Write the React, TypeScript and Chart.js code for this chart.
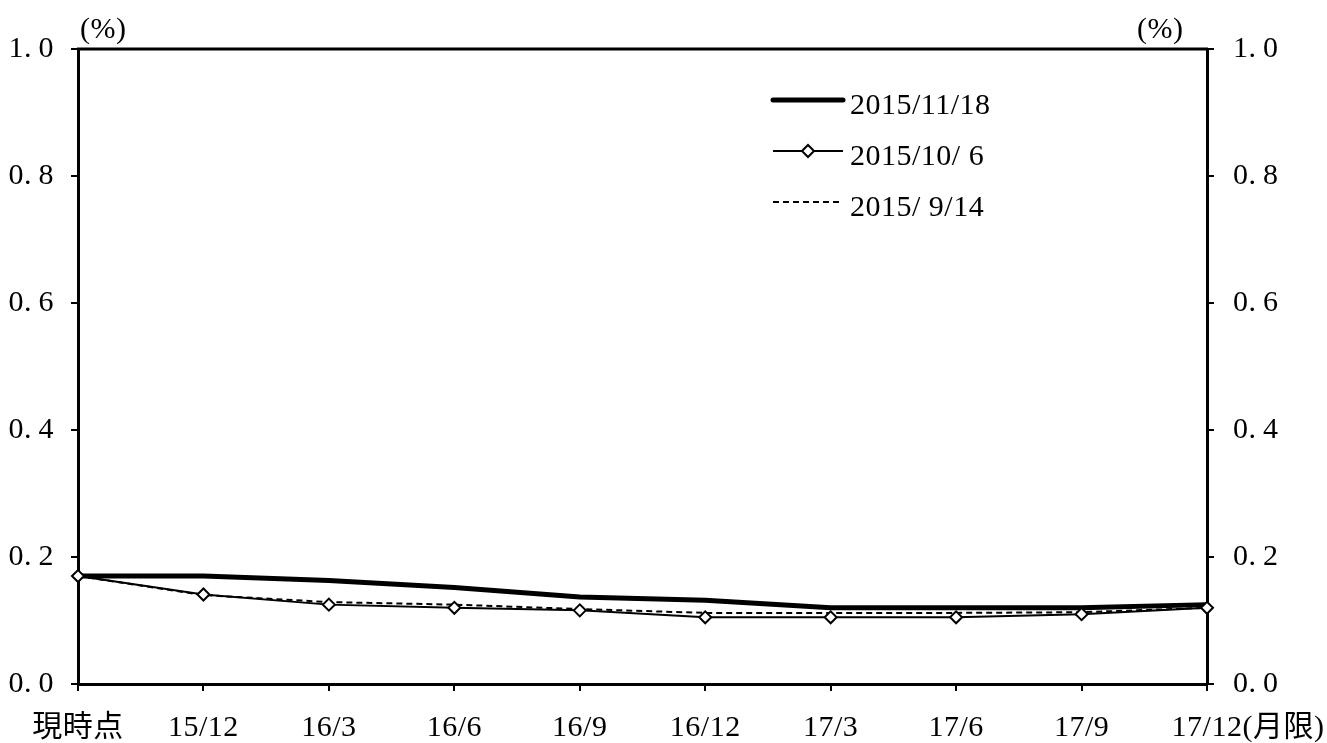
import React, { useEffect, useRef } from 'react';
import { Chart, registerables } from 'chart.js';

Chart.register(...registerables);

const categories = ['現時点', '15/12', '16/3', '16/6', '16/9', '16/12', '17/3', '17/6', '17/9', '17/12'];
const series1118 = [0.17, 0.17, 0.163, 0.152, 0.137, 0.132, 0.12, 0.12, 0.12, 0.125];
const series1006 = [0.17, 0.141, 0.125, 0.12, 0.116, 0.105, 0.105, 0.105, 0.11, 0.12];
const series0914 = [0.17, 0.14, 0.129, 0.125, 0.118, 0.112, 0.112, 0.112, 0.113, 0.12];
const legendLabels = ['2015/11/18', '2015/10/ 6', '2015/ 9/14'];
const yMin = 0;
const yMax = 1.0;
const yStep = 0.2;
const unitLabel = '(%)';
const monthSuffix = '(月限)';

const FONT_FAMILY = '"Liberation Serif", "Noto Sans CJK JP", serif';
const FONT_SIZE = 30;
const LS = '0.5px';

export default function App() {
  const ref = useRef<HTMLCanvasElement | null>(null);

  useEffect(() => {
    const canvas = ref.current;
    if (!canvas) return;

    const fmt = (v: any) => Number(v).toFixed(1).replace('.', '.\u2009');

    const decorPlugin = {
      id: 'decor',
      beforeDraw(chart: any) {
        const ctx = chart.ctx;
        ctx.letterSpacing = LS;
      },
      afterDraw(chart: any) {
        const ctx = chart.ctx;
        const { left, right, top, bottom } = chart.chartArea;
        ctx.save();
        ctx.letterSpacing = LS;
        // top border
        ctx.strokeStyle = '#000';
        ctx.lineWidth = 3;
        ctx.beginPath();
        ctx.moveTo(left - 1, top);
        ctx.lineTo(right + 1, top);
        ctx.stroke();

        ctx.font = `${FONT_SIZE}px ${FONT_FAMILY}`;
        ctx.fillStyle = '#000';
        ctx.textBaseline = 'alphabetic';
        ctx.textAlign = 'left';
        // unit labels
        ctx.fillText(unitLabel, left + 2, top - 11);
        ctx.fillText(unitLabel, right - 70, top - 11);

        // month suffix
        const xs = chart.scales.x;
        const lastX = xs.getPixelForValue(categories.length - 1);
        const lastW = ctx.measureText(categories[categories.length - 1]).width;
        ctx.textBaseline = 'middle';
        ctx.fillText(monthSuffix, lastX + lastW / 2, bottom + 7 + 19 + FONT_SIZE * 1.2 / 2);

        // legend
        const lx0 = 773;
        const lx1 = 843;
        const rows = [100, 151, 202];
        ctx.textBaseline = 'alphabetic';
        // row 1 thick
        ctx.lineWidth = 5;
        ctx.lineCap = 'round';
        ctx.beginPath();
        ctx.moveTo(lx0, rows[0]);
        ctx.lineTo(lx1, rows[0]);
        ctx.stroke();
        ctx.lineCap = 'butt';
        // row 2 diamond
        ctx.lineWidth = 2;
        ctx.beginPath();
        ctx.moveTo(lx0, rows[1]);
        ctx.lineTo(lx1, rows[1]);
        ctx.stroke();
        const dx = (lx0 + lx1) / 2;
        const r = 6;
        ctx.beginPath();
        ctx.moveTo(dx - r, rows[1]);
        ctx.lineTo(dx, rows[1] - r);
        ctx.lineTo(dx + r, rows[1]);
        ctx.lineTo(dx, rows[1] + r);
        ctx.closePath();
        ctx.fillStyle = '#fff';
        ctx.fill();
        ctx.stroke();
        ctx.fillStyle = '#000';
        // row 3 dashed
        ctx.setLineDash([6, 4]);
        ctx.beginPath();
        ctx.moveTo(lx0, rows[2]);
        ctx.lineTo(lx1, rows[2]);
        ctx.stroke();
        ctx.setLineDash([]);

        legendLabels.forEach((t, i) => {
          ctx.fillText(t, 850, rows[i] + 14);
        });
        ctx.restore();
      },
    };

    const tickFont = { family: FONT_FAMILY, size: FONT_SIZE };

    const chart = new Chart(canvas, {
      type: 'line',
      data: {
        labels: categories,
        datasets: [
          {
            label: legendLabels[0],
            data: series1118,
            borderColor: '#000',
            borderWidth: 5,
            pointRadius: 0,
            tension: 0,
            order: 2,
            yAxisID: 'y',
          },
          {
            label: legendLabels[1],
            data: series1006,
            borderColor: '#000',
            borderWidth: 2,
            pointStyle: 'rectRot',
            pointRadius: 6,
            pointBorderWidth: 2,
            pointBackgroundColor: '#fff',
            pointBorderColor: '#000',
            tension: 0,
            order: 0,
            yAxisID: 'y',
          },
          {
            label: legendLabels[2],
            data: series0914,
            borderColor: '#000',
            borderWidth: 2,
            borderDash: [6, 4],
            pointRadius: 0,
            tension: 0,
            order: 1,
            yAxisID: 'y',
          },
        ],
      },
      options: {
        animation: false,
        responsive: false,
        maintainAspectRatio: false,
        layout: { padding: { top: 49, left: 0, right: 0, bottom: 0 } },
        plugins: {
          legend: { display: false },
          tooltip: { enabled: false },
          title: { display: false },
        },
        scales: {
          x: {
            type: 'category',
            offset: false,
            grid: {
              drawOnChartArea: false,
              drawTicks: true,
              tickLength: 7,
              color: '#000',
              lineWidth: 2,
            },
            border: { display: true, color: '#000', width: 3 },
            ticks: {
              color: '#000',
              font: tickFont,
              padding: 19,
              maxRotation: 0,
              autoSkip: false,
            },
            afterFit(scale: any) {
              scale.height = 59;
            },
          },
          y: {
            position: 'left',
            min: yMin,
            max: yMax,
            grid: {
              drawOnChartArea: false,
              drawTicks: true,
              tickLength: 7,
              color: '#000',
              lineWidth: 2,
            },
            border: { display: true, color: '#000', width: 3 },
            ticks: {
              stepSize: yStep,
              color: '#000',
              font: tickFont,
              padding: 17,
              callback: fmt,
            },
            afterFit(scale: any) {
              scale.width = 78;
            },
          },
          y2: {
            position: 'right',
            min: yMin,
            max: yMax,
            grid: {
              drawOnChartArea: false,
              drawTicks: true,
              tickLength: 7,
              color: '#000',
              lineWidth: 2,
            },
            border: { display: true, color: '#000', width: 3 },
            ticks: {
              stepSize: yStep,
              color: '#000',
              font: tickFont,
              padding: 19,
              callback: fmt,
            },
            afterFit(scale: any) {
              scale.width = 120;
            },
          },
        },
      },
      plugins: [decorPlugin],
    });

    return () => {
      chart.destroy();
    };
  }, []);

  return (
    <div style={{ position: 'fixed', left: 0, top: 0, width: 1327, height: 743, background: '#fff' }}>
      <canvas ref={ref} width={1327} height={743} style={{ display: 'block', width: 1327, height: 743 }} />
    </div>
  );
}
